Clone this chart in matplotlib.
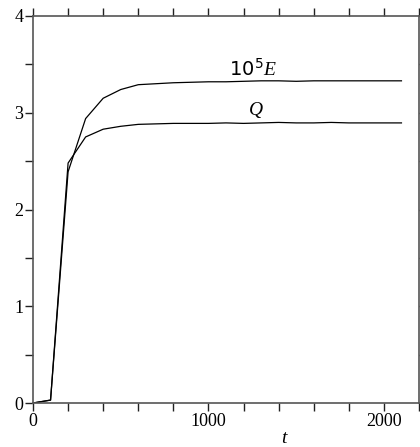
import matplotlib
matplotlib.use("Agg")
import matplotlib.pyplot as plt
from matplotlib.ticker import MultipleLocator

t = list(range(0, 2200, 100))
E = [0.0, 0.03, 2.39, 2.94, 3.15, 3.24, 3.29, 3.30, 3.31, 3.315, 3.32, 3.32,
     3.325, 3.33, 3.33, 3.325, 3.33, 3.33, 3.33, 3.33, 3.33, 3.33]
Q = [0.0, 0.03, 2.48, 2.75, 2.83, 2.86, 2.88, 2.885, 2.89, 2.89, 2.89, 2.895,
     2.89, 2.895, 2.90, 2.895, 2.895, 2.90, 2.895, 2.895, 2.895, 2.895]
xticks = [0, 1000, 2000]
yticks = [0, 1, 2, 3, 4]

plt.rcParams['font.family'] = ['Liberation Serif', 'DejaVu Serif']
plt.rcParams['mathtext.fontset'] = 'custom'
plt.rcParams['mathtext.rm'] = 'DejaVu Sans'
plt.rcParams['mathtext.it'] = 'Liberation Serif:italic'
plt.rcParams['mathtext.sf'] = 'DejaVu Sans'

fig = plt.figure(figsize=(4.2, 4.47), dpi=100)
ax = fig.add_axes([33/420, 44/447, 386/420, 387/447])

ax.plot(t, E, color='black', lw=0.9)
ax.plot(t, Q, color='black', lw=0.9)

ax.set_xlim(0, 2200)
ax.set_ylim(0, 4)
ax.set_xticks(xticks)
ax.set_yticks(yticks)
ax.xaxis.set_minor_locator(MultipleLocator(200))
ax.yaxis.set_minor_locator(MultipleLocator(0.5))

spine_col = '#555555'
for s in ax.spines.values():
    s.set_color(spine_col)
    s.set_linewidth(1.2)

ax.tick_params(which='both', direction='out', length=5.5, width=1.0,
               color='#222222', top=True, right=True, labelsize=13, pad=1.5)

ax.text(1254, 3.38, r'$\mathrm{10^5}E$', fontsize=14, ha='center', va='baseline')
ax.text(1270, 2.98, r'$Q$', fontsize=14, ha='center', va='baseline')

ax.set_xlabel(r'$t$', fontsize=14)
ax.xaxis.set_label_coords((285 - 33) / 386, -0.07)

fig.savefig('out.png', dpi=100)
